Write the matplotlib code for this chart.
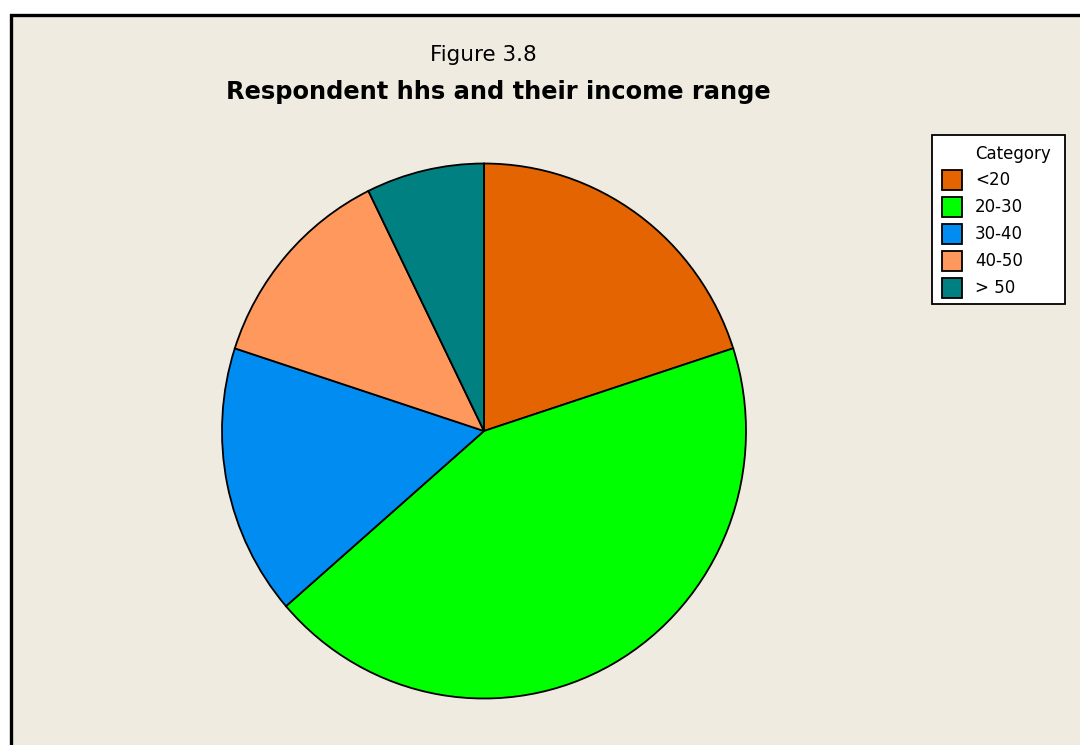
import matplotlib
matplotlib.use("Agg")
import matplotlib.pyplot as plt
from matplotlib.patches import Rectangle

# income ranges of respondent households (number of hhs)
categories = ["<20", "20-30", "30-40", "40-50", "> 50"]
counts = [11, 24, 9, 7, 4]
colors = ["#E36400", "#00FF00", "#008CF0", "#FF985C", "#008080"]

bg = "#EFEBE1"
W, H = 1080, 745


def fx(px):
    return px / W


def fy(py):
    return 1 - py / H


fig = plt.figure(figsize=(10.8, 7.45), dpi=100)
fig.patch.set_facecolor("white")

# panel with black border (runs off right and bottom)
panel = Rectangle((fx(11), -0.05), 1.1, fy(15) + 0.05,
                  transform=fig.transFigure, facecolor=bg,
                  edgecolor="black", linewidth=2.4, zorder=-1)
fig.patches.append(panel)

ax = fig.add_axes([fx(484 - 262), fy(431 + 267.5), 524 / W, 535 / H])
ax.set_zorder(2)
wedges, _ = ax.pie(counts, colors=colors, startangle=90, counterclock=False,
                   radius=1.0,
                   wedgeprops=dict(edgecolor="black", linewidth=1.3))
ax.set_aspect("auto")
ax.set_xlim(-1, 1)
ax.set_ylim(-1, 1)
ax.patch.set_alpha(0)

fig.text(fx(483), fy(55), "Figure 3.8", ha="center", va="center",
         fontsize=15.5, family="DejaVu Sans")
fig.text(fx(498), fy(92), "Respondent hhs and their income range",
         ha="center", va="center", fontsize=17.4, fontweight="bold",
         family="DejaVu Sans")

# legend box drawn by hand
fig.patches.append(Rectangle((fx(932), fy(304)), (1065 - 932) / W, (304 - 135) / H,
                             transform=fig.transFigure, facecolor="white",
                             edgecolor="black", linewidth=1.3, zorder=3))
fig.text(fx(975), fy(154), "Category", ha="left", va="center",
         fontsize=12, zorder=4)
for i, (lab, col) in enumerate(zip(categories, colors)):
    yc = 180 + 27 * i
    fig.patches.append(Rectangle((fx(942), fy(yc + 10)), 20 / W, 20 / H,
                                 transform=fig.transFigure, facecolor=col,
                                 edgecolor="black", linewidth=1.3, zorder=4))
    fig.text(fx(975), fy(yc), lab, ha="left", va="center",
             fontsize=12, zorder=4)

fig.savefig("out.png", dpi=100, facecolor=fig.get_facecolor())
